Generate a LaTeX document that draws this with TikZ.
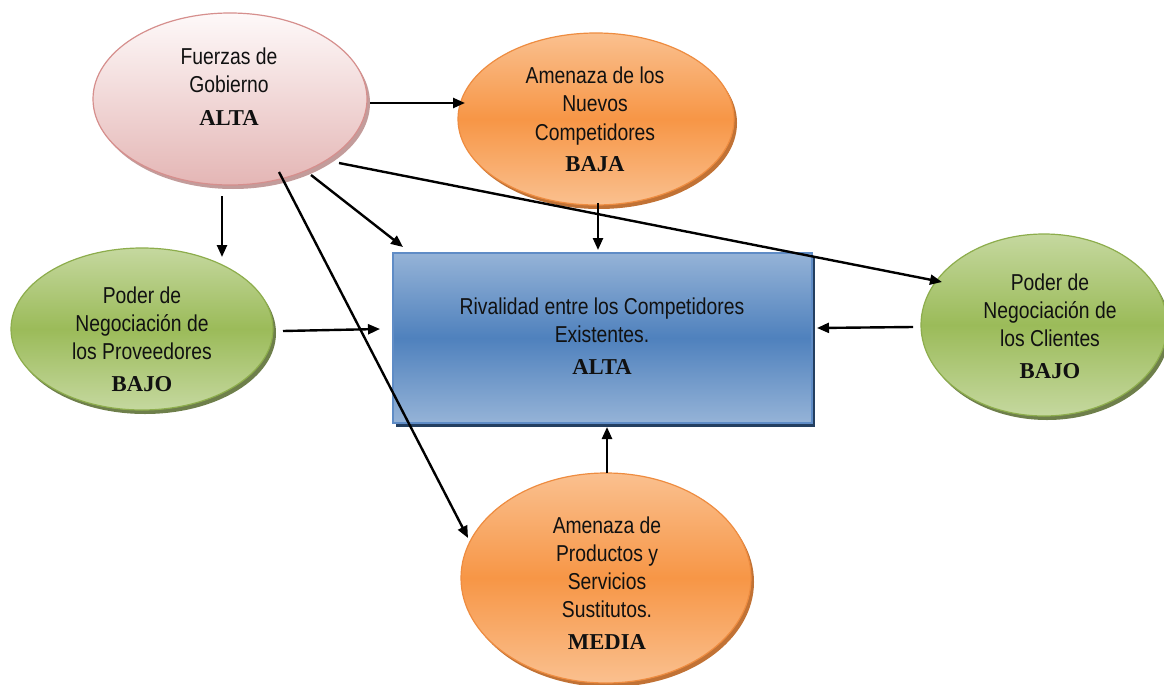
\documentclass[tikz,border=0pt]{standalone}
\usepackage{fontspec}
\newfontfamily\labsans[FakeStretch=0.84]{Liberation Sans}
\newfontfamily\labserif{Liberation Serif}
\usetikzlibrary{shapes.geometric,shadows,arrows.meta}

% text block: plain lines, then a bold rating line
\newcommand{\forcetext}[2]{\begin{tabular}[t]{@{}c@{}}#1\\[4pt]{\labserif\bfseries\fontsize{22.7}{28}\selectfont #2}\end{tabular}}

\definecolor{orgLight}{HTML}{FAC08F}
\definecolor{orgMid}{HTML}{F79646}
\definecolor{orgLine}{HTML}{EE8C40}
\definecolor{orgShadow}{HTML}{B75A12}
\definecolor{grnLight}{HTML}{C5D89F}
\definecolor{grnMid}{HTML}{9BBB59}
\definecolor{grnLine}{HTML}{8DAD4C}
\definecolor{grnShadow}{HTML}{55692C}
\definecolor{pnkTop}{HTML}{FEF9F9}
\definecolor{pnkBot}{HTML}{E4B6B5}
\definecolor{pnkLine}{HTML}{D68F8D}
\definecolor{pnkShadow}{HTML}{B58482}
\definecolor{bluLight}{HTML}{95B3D7}
\definecolor{bluMid}{HTML}{4F81BD}
\definecolor{bluLine}{HTML}{5F8CC6}
\definecolor{bluShadow}{HTML}{243F60}
\definecolor{ink}{HTML}{111111}

\begin{document}
\begin{tikzpicture}[x=1pt,y=-1pt,
  force/.style={ellipse, inner sep=0pt, line width=1.2pt},
  orangeforce/.style={force, draw=orgLine, top color=orgLight, bottom color=orgLight, middle color=orgMid,
     drop shadow={shadow xshift=3pt, shadow yshift=-4pt, fill=orgShadow, opacity=0.85}},
  greenforce/.style={force, draw=grnLine, top color=grnLight, bottom color=grnLight, middle color=grnMid,
     drop shadow={shadow xshift=3pt, shadow yshift=-4pt, fill=grnShadow, opacity=0.85}},
  pinkforce/.style={force, draw=pnkLine, top color=pnkTop, bottom color=pnkBot,
     drop shadow={shadow xshift=3pt, shadow yshift=-4pt, fill=pnkShadow, opacity=0.8}},
  centerbox/.style={rectangle, inner sep=0pt, line width=1.5pt, draw=bluLine,
     top color=bluLight, bottom color=bluLight, middle color=bluMid,
     drop shadow={shadow xshift=3pt, shadow yshift=-4pt, fill=bluShadow, opacity=1}},
  lbl/.style={anchor=base, inner sep=0pt, text=ink, font=\labsans\fontsize{23}{28}\selectfont},
  conn/.style={line width=2.4pt, draw=black, -{Triangle[length=12pt,width=10pt]}}
]
\useasboundingbox (0,0) rectangle (1164,685);
\clip (0,0) rectangle (1164,685);
\fill[white] (0,0) rectangle (1164,685);

% shapes
\node[pinkforce, minimum width=274pt, minimum height=172pt] (gob) at (230,99) {};
\node[orangeforce, minimum width=276pt, minimum height=172pt] (nue) at (596,119) {};
\node[greenforce, minimum width=262pt, minimum height=162pt] (pro) at (142,329) {};
\node[centerbox, minimum width=419pt, minimum height=170pt] (riv) at (602.5,338) {};
\node[greenforce, minimum width=246pt, minimum height=182pt] (cli) at (1044,325) {};
\node[orangeforce, minimum width=290pt, minimum height=210pt] (sus) at (606,578) {};

% labels
\node[lbl] (gobT) at (229,65) {\forcetext{Fuerzas de\\Gobierno}{ALTA}};
\node[lbl] (nueT) at (595,84) {\forcetext{Amenaza de los\\Nuevos\\Competidores}{BAJA}};
\node[lbl] (proT) at (142,303) {\forcetext{Poder de\\Negociación de\\los Proveedores}{BAJO}};
\node[lbl] (rivT) at (602,314) {\forcetext{Rivalidad entre los Competidores\\Existentes.}{ALTA}};
\node[lbl] (cliT) at (1050,290) {\forcetext{Poder de\\Negociación de\\los Clientes}{BAJO}};
\node[lbl] (susT) at (607,533) {\forcetext{Amenaza de\\Productos y\\Servicios\\Sustitutos.}{MEDIA}};

% connectors
\draw[conn] ([shift={(140,4)}]gob.center) -- ([shift={(-131,-16)}]nue.center);
\draw[conn] ([shift={(-8,97)}]gob.center) -- ([shift={(80,-72)}]pro.center);
\draw[conn] ([shift={(81,76)}]gob.center) -- ([shift={(-199.5,-91)}]riv.center);
\draw[conn] ([shift={(109,64)}]gob.center) -- ([shift={(-102,-43)}]cli.center);
\draw[conn] ([shift={(49,73)}]gob.center) -- ([shift={(-138,-40)}]sus.center);
\draw[conn] ([shift={(2,84)}]nue.center) -- ([shift={(-4.5,-88)}]riv.center);
\draw[conn] ([shift={(141,2)}]pro.center) -- ([shift={(-222.5,-9)}]riv.center);
\draw[conn] ([shift={(-131,2)}]cli.center) -- ([shift={(214.5,-10)}]riv.center);
\draw[conn] ([shift={(1,-105)}]sus.center) -- ([shift={(4.5,89)}]riv.center);
\end{tikzpicture}
\end{document}
